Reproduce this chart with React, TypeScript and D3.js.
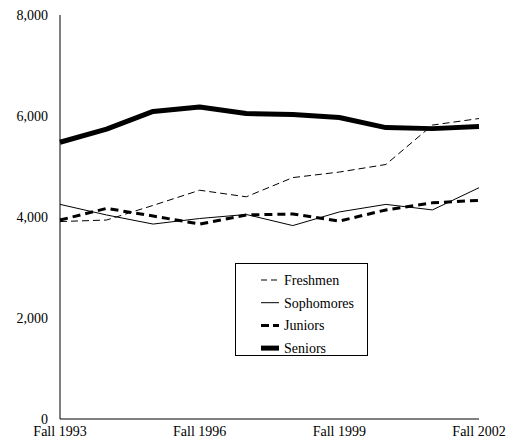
import React from "react";
import * as d3 from "d3";

const years = ["Fall 1993", "Fall 1994", "Fall 1995", "Fall 1996", "Fall 1997", "Fall 1998", "Fall 1999", "Fall 2000", "Fall 2001", "Fall 2002"];
const xTickLabels = ["Fall 1993", "Fall 1996", "Fall 1999", "Fall 2002"];
const yTicks = [0, 2000, 4000, 6000, 8000];

const freshmen = [3910, 3940, 4230, 4530, 4400, 4780, 4890, 5040, 5820, 5950];
const sophomores = [4250, 4040, 3860, 3970, 4050, 3830, 4100, 4250, 4140, 4580];
const juniors = [3940, 4170, 4020, 3860, 4040, 4060, 3920, 4140, 4280, 4330];
const seniors = [5480, 5740, 6090, 6180, 6050, 6030, 5970, 5770, 5750, 5790];

const seriesNames = ["Freshmen", "Sophomores", "Juniors", "Seniors"];
const seriesData = [freshmen, sophomores, juniors, seniors];
const seriesStyle = [
  { width: 1, dash: "7,4" },
  { width: 1, dash: "" },
  { width: 3, dash: "8,5" },
  { width: 5, dash: "" },
];
const legendDash = ["6,4", "", "8,4", ""];

const FONT = '"Liberation Serif", "Times New Roman", Times, "DejaVu Serif", serif';

export default function App() {
  const W = 513, H = 442;
  const x = d3.scaleLinear().domain([0, years.length - 1]).range([60, 479]);
  const y = d3.scaleLinear().domain([0, 8000]).range([419, 15]);
  const line = d3.line<number>().x((_, i) => x(i)).y((d) => y(d));
  const ts = { fontFamily: FONT, fontSize: "14px" } as React.CSSProperties;

  return (
    <svg width={W} height={H} style={{ position: "absolute", left: 0, top: 0, background: "#fff" }}>
      <rect x={0} y={0} width={W} height={H} fill="#fff" />
      <line x1={60} x2={60} y1={y(8000)} y2={y(0)} stroke="#000" strokeWidth={1} />
      <line x1={60} x2={479} y1={y(0)} y2={y(0)} stroke="#000" strokeWidth={1} />
      {yTicks.map((t) => (
        <text key={t} x={48} y={y(t)} dy="0.35em" textAnchor="end" style={ts} fill="#000">
          {d3.format(",")(t)}
        </text>
      ))}
      {xTickLabels.map((lab) => (
        <text key={lab} x={x(years.indexOf(lab))} y={436} textAnchor="middle" style={ts} fill="#000">
          {lab}
        </text>
      ))}
      {seriesData.map((d, i) => (
        <path key={seriesNames[i]} d={line(d) || ""} fill="none" stroke="#000"
          strokeWidth={seriesStyle[i].width} strokeDasharray={seriesStyle[i].dash || undefined}
          strokeLinejoin="round" />
      ))}
      <rect x={235.5} y={263.5} width={132} height={92} fill="#fff" stroke="#000" strokeWidth={1} />
      {seriesNames.map((n, i) => {
        const cy = 280 + i * 22.7;
        return (
          <g key={n}>
            <line x1={261} x2={279} y1={cy} y2={cy} stroke="#000" strokeWidth={seriesStyle[i].width}
              strokeDasharray={legendDash[i] || undefined} />
            <text x={284} y={cy} dy="0.35em" style={ts} fill="#000">{n}</text>
          </g>
        );
      })}
    </svg>
  );
}
